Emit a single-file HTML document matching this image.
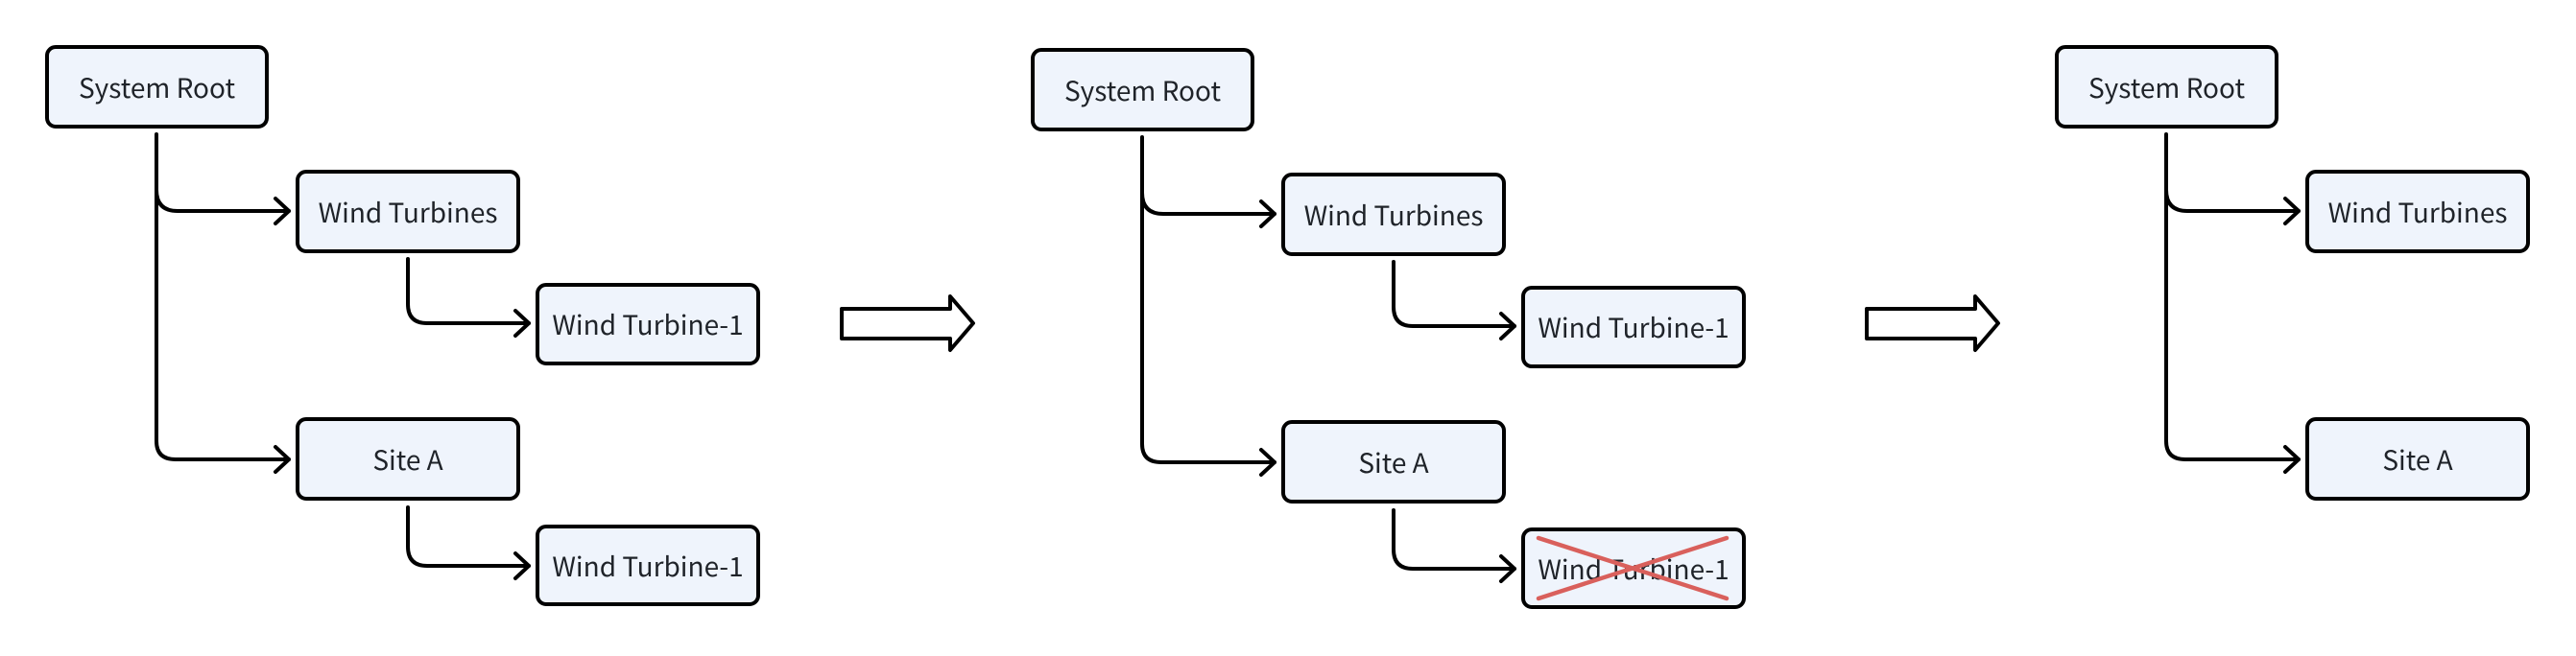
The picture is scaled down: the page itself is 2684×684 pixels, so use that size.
<!DOCTYPE html>
<html><head><meta charset="utf-8"><style>
html,body{margin:0;padding:0;background:#fff;}
svg{display:block}
text{font-family:"Noto Sans CJK SC","Liberation Sans",sans-serif;font-size:28px;fill:#1f2329;text-anchor:middle;dominant-baseline:central}
.b{fill:#eff4fc;stroke:#000;stroke-width:4}
.c{fill:none;stroke:#000;stroke-width:4;stroke-linecap:round;stroke-linejoin:round}
</style></head><body>
<svg width="2684" height="684" viewBox="0 0 2684 684" xmlns="http://www.w3.org/2000/svg">
<defs>
<g id="head"><path class="c" d="M-14,-13 L0,0 L-14,13"/></g>
</defs>

<g>
<rect class="b" x="49" y="49" width="229" height="83" rx="9"/><text x="163.5" y="91">System Root</text>
<rect class="b" x="310" y="179" width="230" height="83" rx="9"/><text x="425" y="221">Wind Turbines</text>
<rect class="b" x="560" y="297" width="230" height="82" rx="9"/><text x="675" y="338">Wind Turbine-1</text>
<rect class="b" x="310" y="437" width="230" height="83" rx="9"/><text x="425" y="479">Site A</text>
<rect class="b" x="560" y="549" width="230" height="81" rx="9"/><text x="675" y="590">Wind Turbine-1</text>
<path class="c" d="M163,140 V460 Q163,479 183,479 H301"/>
<path class="c" d="M163,198 Q163,220 185,220 H301"/>
<use href="#head" x="301" y="220"/><use href="#head" x="301" y="479"/>
<path class="c" d="M425,270 V317 Q425,337 445,337 H551"/><use href="#head" x="551" y="337"/>
<path class="c" d="M425,529 V570 Q425,590 445,590 H551"/><use href="#head" x="551" y="590"/>
</g>

<path class="c" d="M877,322 H990 V309 L1014,337 L990,365 V353 H877 Z"/>
<path class="c" d="M1945,322 H2058 V309 L2082,337 L2058,365 V353 H1945 Z"/>

<g transform="translate(1027,3)">
<rect class="b" x="49" y="49" width="229" height="83" rx="9"/><text x="163.5" y="91">System Root</text>
<rect class="b" x="310" y="179" width="230" height="83" rx="9"/><text x="425" y="221">Wind Turbines</text>
<rect class="b" x="560" y="297" width="230" height="82" rx="9"/><text x="675" y="338">Wind Turbine-1</text>
<rect class="b" x="310" y="437" width="230" height="83" rx="9"/><text x="425" y="479">Site A</text>
<rect class="b" x="560" y="549" width="230" height="81" rx="9"/><text x="675" y="590">Wind Turbine-1</text>
<path class="c" d="M163,140 V460 Q163,479 183,479 H301"/>
<path class="c" d="M163,198 Q163,220 185,220 H301"/>
<use href="#head" x="301" y="220"/><use href="#head" x="301" y="479"/>
<path class="c" d="M425,270 V317 Q425,337 445,337 H551"/><use href="#head" x="551" y="337"/>
<path class="c" d="M425,529 V570 Q425,590 445,590 H551"/><use href="#head" x="551" y="590"/>
<path d="M576,558 L772,621 M576,621 L772,558" stroke="#d9605c" stroke-width="4.5" stroke-linecap="round"/>
</g>

<g transform="translate(2094,0)">
<rect class="b" x="49" y="49" width="229" height="83" rx="9"/><text x="163.5" y="91">System Root</text>
<rect class="b" x="310" y="179" width="230" height="83" rx="9"/><text x="425" y="221">Wind Turbines</text>
<rect class="b" x="310" y="437" width="230" height="83" rx="9"/><text x="425" y="479">Site A</text>
<path class="c" d="M163,140 V460 Q163,479 183,479 H301"/>
<path class="c" d="M163,198 Q163,220 185,220 H301"/>
<use href="#head" x="301" y="220"/><use href="#head" x="301" y="479"/>
</g>
</svg>
</body></html>
